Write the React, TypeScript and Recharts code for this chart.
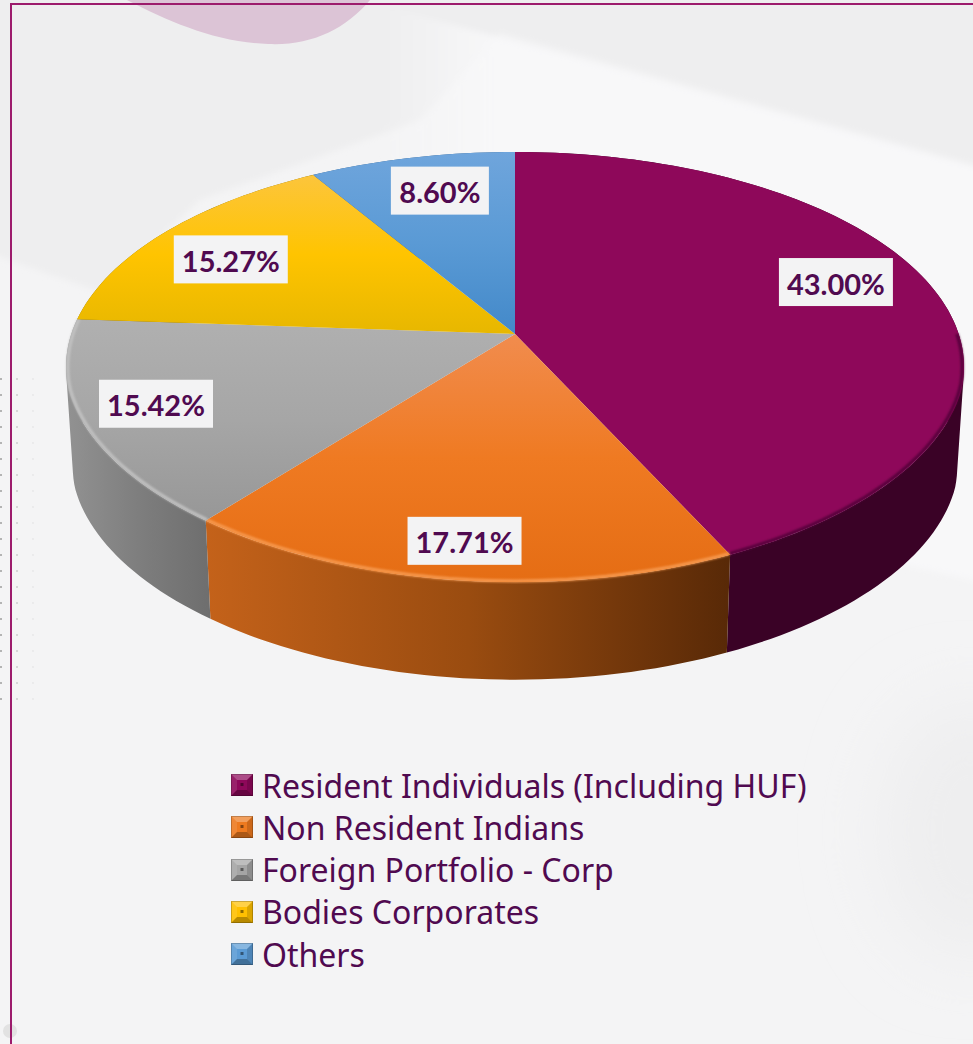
import { Legend, Pie, PieChart } from 'recharts';

const names = ['Resident Individuals (Including HUF)', 'Non Resident Indians', 'Foreign Portfolio - Corp', 'Bodies Corporates', 'Others'];
const shares = [43.0, 17.71, 15.42, 15.27, 8.6];
const colors = ['#8e085a', '#ee7a1f', '#a5a5a5', '#ffc000', '#5b9bd5'];

const topStops = [
  ['#8e085a', '#8e085a', '#8e085a'],
  ['#f18c4e', '#ef7a22', '#e56d14'],
  ['#b0b0b0', '#a6a6a6', '#979797'],
  ['#fcc53c', '#ffc400', '#e7b700'],
  ['#6fa5dc', '#5a9ad5', '#4389c9'],
];
const wallStops = [
  ['#3a0226', '#3a0226', '#3a0226'],
  ['#c4621a', '#9a4c10', '#582907'],
  ['#929292', '#7e7e7e', '#6e6e6e'],
  ['#8a6d00', '#8a6d00', '#8a6d00'],
  ['#2f5f8f', '#2f5f8f', '#2f5f8f'],
];
const rimColors = ['#55033a', '#f79a50', '#c2c2c2', 'none', 'none'];
const labelRadius = [0.76, 0.865, 0.84, 0.8, 0.7];
const labelLift = [18, 1, 5, -8, 15];

// tilted disc: perspective projection of a unit circle
const K = 0.1535;
const NEAR_TAPER = 0.03;
const TOP = { cx: 515, cy: 334, a: 443.7, b: 210 };
const BOTTOM = { cx: 515, cy: 434, a: 437, b: 208 };
const CHART_W = 973;
const CHART_H = 1044;

type Face = typeof TOP;

function project(face: Face, angle: number, r = 1) {
  const rad = (angle * Math.PI) / 180;
  const Y = r * Math.sin(rad);
  const X = r * Math.cos(rad) * (1 + NEAR_TAPER * Math.min(Y + 0.25, 0));
  const w = 1 + K * Y;
  return { x: face.cx + (face.a * X) / w, y: face.cy - (face.b * Y) / w };
}

function arcAngles(from: number, to: number) {
  const steps = Math.max(2, Math.ceil(Math.abs(to - from) / 1.5));
  return Array.from({ length: steps + 1 }, (_, i) => from + ((to - from) * i) / steps);
}

function arcPoints(face: Face, from: number, to: number, r = 1) {
  return arcAngles(from, to).map((angle) => {
    const p = project(face, angle, r);
    return `${p.x.toFixed(1)} ${p.y.toFixed(1)}`;
  });
}

function WallSector(props: any) {
  const i = names.indexOf(props.name);
  // ruled strips between both rims, so the side silhouette stays a straight edge
  const angles = arcAngles(props.startAngle, props.endAngle);
  let d = '';
  for (let s = 0; s < angles.length - 1; s++) {
    const quad = [
      project(TOP, angles[s]),
      project(TOP, angles[s + 1]),
      project(BOTTOM, angles[s + 1]),
      project(BOTTOM, angles[s]),
    ];
    // same winding for every strip, otherwise overlaps cancel out
    let area = 0;
    quad.forEach((p, n) => {
      const q = quad[(n + 1) % 4];
      area += p.x * q.y - q.x * p.y;
    });
    if (area < 0) quad.reverse();
    d += `M${quad.map((p) => `${p.x} ${p.y}`).join('L')}Z`;
  }
  return <path d={d} fill={`url(#wall-${i})`} />;
}

function TopSector(props: any) {
  const i = names.indexOf(props.name);
  const arc = arcPoints(TOP, props.startAngle, props.endAngle);
  // rim only on the near side of the disc
  const from = Math.min(props.startAngle, 0);
  const to = Math.max(props.endAngle, -190);
  const hasRim = rimColors[i] !== 'none' && from > to;
  return (
    <g>
      <path d={`M${TOP.cx} ${TOP.cy}L${arc.join('L')}Z`} fill={`url(#top-${i})`} />
      {hasRim && (
        <path
          d={`M${arcPoints(TOP, from, to, 0.996).join('L')}`}
          fill="none"
          stroke={rimColors[i]}
          strokeWidth={3}
          filter="url(#rimBlur)"
        />
      )}
    </g>
  );
}

function SliceLabel(props: any) {
  const i = names.indexOf(props.name);
  const p = project(TOP, props.midAngle, labelRadius[i]);
  const text = `${shares[i].toFixed(2)}%`;
  const w = text.length > 5 ? 114 : 98;
  const y = p.y - labelLift[i];
  return (
    <g>
      <rect x={p.x - w / 2} y={y - 24} width={w} height={48} fill="#f3f3f4" />
      <text
        x={p.x}
        y={y + 1}
        textAnchor="middle"
        dominantBaseline="central"
        fontFamily="Lato, 'Open Sans', sans-serif"
        fontWeight={700}
        fontSize={29}
        fill="#500a50"
      >
        {text}
      </text>
    </g>
  );
}

function BevelIcon({ color }: { color: string }) {
  return (
    <svg width={22} height={22} style={{ flex: 'none' }}>
      <rect width={22} height={22} fill={color} />
      <polygon points="0,0 22,0 16,6 6,6" fill="#fff" opacity={0.28} />
      <polygon points="0,0 6,6 6,16 0,22" fill="#fff" opacity={0.1} />
      <polygon points="22,0 22,22 16,16 16,6" fill="#000" opacity={0.14} />
      <polygon points="0,22 22,22 16,16 6,16" fill="#000" opacity={0.28} />
      <rect x={9.5} y={9} width={3} height={3} fill="#000" opacity={0.45} />
      <rect x={0.5} y={0.5} width={21} height={21} fill="none" stroke="#000" strokeOpacity={0.2} />
    </svg>
  );
}

function LegendList() {
  return (
    <div style={{ marginTop: -1 }}>
      {names.map((name, i) => (
        <div key={name} style={{ display: 'flex', alignItems: 'center', height: 42.25, gap: 9 }}>
          <BevelIcon color={colors[i]} />
          <span style={{ fontFamily: "'Noto Sans', sans-serif", fontSize: 32, color: '#500a50', whiteSpace: 'nowrap' }}>
            {name}
          </span>
        </div>
      ))}
    </div>
  );
}

function Backdrop() {
  const rows = Array.from({ length: 21 }, (_, i) => 379 + i * 16);
  return (
    <svg width={CHART_W} height={CHART_H} style={{ position: 'absolute', left: 0, top: 0 }}>
      <defs>
        <filter id="softEdge" x="-10%" y="-10%" width="120%" height="120%">
          <feGaussianBlur stdDeviation="3" />
        </filter>
        <filter id="wideBlur" x="-50%" y="-50%" width="200%" height="200%">
          <feGaussianBlur stdDeviation="35" />
        </filter>
        <linearGradient id="bandFade" x1="0" y1="0" x2="1" y2="0">
          <stop offset="0" stopColor="#f8f8f9" stopOpacity={0} />
          <stop offset="0.2" stopColor="#f8f8f9" />
          <stop offset="1" stopColor="#f8f8f9" />
        </linearGradient>
      </defs>
      <rect width={CHART_W} height={CHART_H} fill="#f4f4f5" />
      <g filter="url(#softEdge)">
        <path d="M-20,-20 L993,-20 L993,170 L500,33 L420,120 L200,200 L100,292 L-20,250 Z" fill="#eeeeef" />
        <path d="M380,5 L993,172 L993,585 Q930,570 880,560 L700,500 L380,150 Z" fill="url(#bandFade)" />
      </g>
      <ellipse cx={970} cy={830} rx={90} ry={130} fill="#eeeeef" filter="url(#wideBlur)" />
      <path d="M127,0 C170,22 215,42 268,44 C310,46 345,30 370,0 Z" fill="#dcc4d6" />
      {rows.map((y) =>
        [1, 17, 33].map((x, c) => (
          <circle key={`${x}-${y}`} cx={x} cy={y} r={c === 0 ? 1 : 0.9} fill="#8a8a8a" opacity={[0.8, 0.4, 0.12][c]} />
        )),
      )}
      <circle cx={10} cy={1031} r={7} fill="#e2e2e2" />
      <path d={`M11,${CHART_H} L11,4 L${CHART_W},4`} fill="none" stroke="#9c1b6c" strokeWidth={2} />
    </svg>
  );
}

const pieData = names.map((name, i) => ({ name, value: shares[i], fill: colors[i] }));

export default function App() {
  return (
    <div style={{ position: 'absolute', left: 0, top: 0, width: CHART_W, height: CHART_H, overflow: 'hidden' }}>
      <Backdrop />
      <div style={{ position: 'absolute', left: 0, top: 0 }}>
        <PieChart width={CHART_W} height={CHART_H} margin={{ top: 0, right: 0, bottom: 0, left: 0 }}>
          <defs>
            <filter id="rimBlur" x="-5%" y="-5%" width="110%" height="110%">
              <feGaussianBlur stdDeviation="1.2" />
            </filter>
            {topStops.map((s, i) => (
              <linearGradient key={i} id={`top-${i}`} x1="0" y1="0" x2="0" y2="1">
                <stop offset="0" stopColor={s[0]} />
                <stop offset="0.5" stopColor={s[1]} />
                <stop offset="1" stopColor={s[2]} />
              </linearGradient>
            ))}
            {wallStops.map((s, i) => (
              <linearGradient key={i} id={`wall-${i}`} x1="0" y1="0" x2="1" y2="0">
                <stop offset="0" stopColor={s[0]} />
                <stop offset="0.5" stopColor={s[1]} />
                <stop offset="1" stopColor={s[2]} />
              </linearGradient>
            ))}
          </defs>
          <Pie
            data={pieData}
            dataKey="value"
            nameKey="name"
            cx={TOP.cx}
            cy={TOP.cy}
            outerRadius={TOP.a}
            startAngle={90}
            endAngle={-270}
            stroke="none"
            legendType="none"
            shape={WallSector}
            isAnimationActive={false}
          />
          <Pie
            data={pieData}
            dataKey="value"
            nameKey="name"
            cx={TOP.cx}
            cy={TOP.cy}
            outerRadius={TOP.a}
            startAngle={90}
            endAngle={-270}
            stroke="none"
            shape={TopSector}
            label={SliceLabel}
            labelLine={false}
            isAnimationActive={false}
          />
          <Legend content={LegendList} wrapperStyle={{ left: 231, top: 765, width: 640, bottom: 'auto' }} />
        </PieChart>
      </div>
    </div>
  );
}
